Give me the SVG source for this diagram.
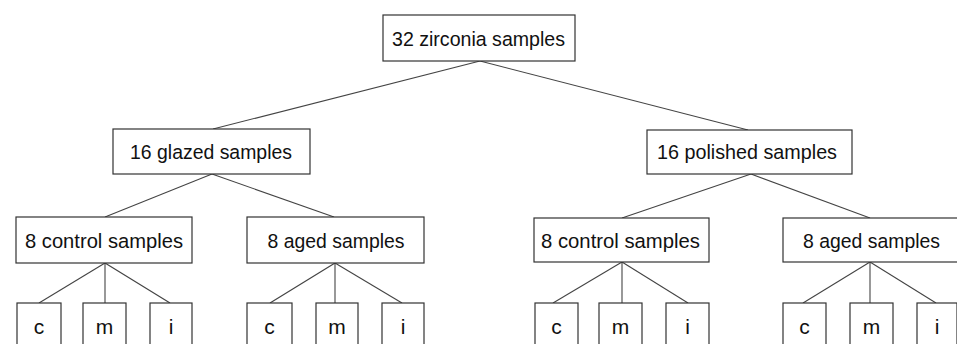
<svg xmlns="http://www.w3.org/2000/svg" width="957" height="344" viewBox="0 0 957 344">
<style>
.box{fill:#fff;stroke:#333;stroke-width:1.2}
.t{font-family:"Liberation Sans",Arial,sans-serif;font-size:20.5px;fill:#111;text-anchor:middle}
.l{font-family:"Liberation Sans",Arial,sans-serif;font-size:21px;fill:#111;text-anchor:middle}
.c line{stroke:#444;stroke-width:1.1}
</style>
<rect width="957" height="344" fill="#fff"/>
<g class="c" id="connectors">
<line x1="480" y1="61" x2="213" y2="129"/>
<line x1="480" y1="61" x2="748" y2="130"/>
<line x1="212" y1="174" x2="105" y2="217"/>
<line x1="212" y1="174" x2="334" y2="217"/>
<line x1="751" y1="174" x2="622" y2="218"/>
<line x1="751" y1="174" x2="870" y2="218"/>
<line x1="105" y1="263" x2="39" y2="303"/>
<line x1="105" y1="263" x2="105" y2="303"/>
<line x1="105" y1="263" x2="170" y2="303"/>
<line x1="335" y1="263" x2="270" y2="303"/>
<line x1="335" y1="263" x2="335" y2="303"/>
<line x1="335" y1="263" x2="402" y2="303"/>
<line x1="622" y1="262" x2="553" y2="303"/>
<line x1="622" y1="262" x2="622" y2="303"/>
<line x1="622" y1="262" x2="688" y2="303"/>
<line x1="870" y1="262" x2="803" y2="303"/>
<line x1="870" y1="262" x2="870" y2="303"/>
<line x1="870" y1="262" x2="936" y2="303"/>
</g>
<g id="root"><rect class="box" x="383" y="15" width="192" height="46"/><text class="t" x="478.5" y="46" textLength="173" lengthAdjust="spacingAndGlyphs">32 zirconia samples</text></g>
<g id="glazed"><rect class="box" x="113" y="129" width="197" height="45"/><text class="t" x="211" y="158.5" textLength="162" lengthAdjust="spacingAndGlyphs">16 glazed samples</text></g>
<g id="polished"><rect class="box" x="647" y="130" width="205" height="44"/><text class="t" x="747" y="158.5" textLength="180" lengthAdjust="spacingAndGlyphs">16 polished samples</text></g>
<g id="g-control"><rect class="box" x="16" y="217" width="176" height="46"/><text class="t" x="104" y="248" textLength="158" lengthAdjust="spacingAndGlyphs">8 control samples</text></g>
<g id="g-aged"><rect class="box" x="247" y="217" width="177" height="46"/><text class="t" x="336" y="247.5" textLength="137" lengthAdjust="spacingAndGlyphs">8 aged samples</text></g>
<g id="p-control"><rect class="box" x="534" y="218" width="175" height="44"/><text class="t" x="620.5" y="248" textLength="159" lengthAdjust="spacingAndGlyphs">8 control samples</text></g>
<g id="p-aged"><rect class="box" x="783" y="218" width="180" height="44"/><text class="t" x="871.5" y="247.5" textLength="137" lengthAdjust="spacingAndGlyphs">8 aged samples</text></g>
<g id="gc-c"><rect class="box" x="17" y="303" width="44" height="60"/><text class="l" x="39" y="334">c</text></g>
<g id="gc-m"><rect class="box" x="83" y="303" width="43" height="60"/><text class="l" x="104.5" y="334">m</text></g>
<g id="gc-i"><rect class="box" x="150" y="303" width="42" height="60"/><text class="l" x="171" y="334">i</text></g>
<g id="ga-c"><rect class="box" x="247" y="303" width="45" height="60"/><text class="l" x="269.5" y="334">c</text></g>
<g id="ga-m"><rect class="box" x="316" y="303" width="42" height="60"/><text class="l" x="337" y="334">m</text></g>
<g id="ga-i"><rect class="box" x="382" y="303" width="42" height="60"/><text class="l" x="403" y="334">i</text></g>
<g id="pc-c"><rect class="box" x="535" y="303" width="43" height="60"/><text class="l" x="556.5" y="334">c</text></g>
<g id="pc-m"><rect class="box" x="599" y="303" width="43" height="60"/><text class="l" x="620.5" y="334">m</text></g>
<g id="pc-i"><rect class="box" x="666" y="303" width="43" height="60"/><text class="l" x="687.5" y="334">i</text></g>
<g id="pa-c"><rect class="box" x="783" y="303" width="43" height="60"/><text class="l" x="804.5" y="334">c</text></g>
<g id="pa-m"><rect class="box" x="850" y="303" width="43" height="60"/><text class="l" x="871.5" y="334">m</text></g>
<g id="pa-i"><rect class="box" x="917" y="303" width="40" height="60"/><text class="l" x="937" y="334">i</text></g>
</svg>
